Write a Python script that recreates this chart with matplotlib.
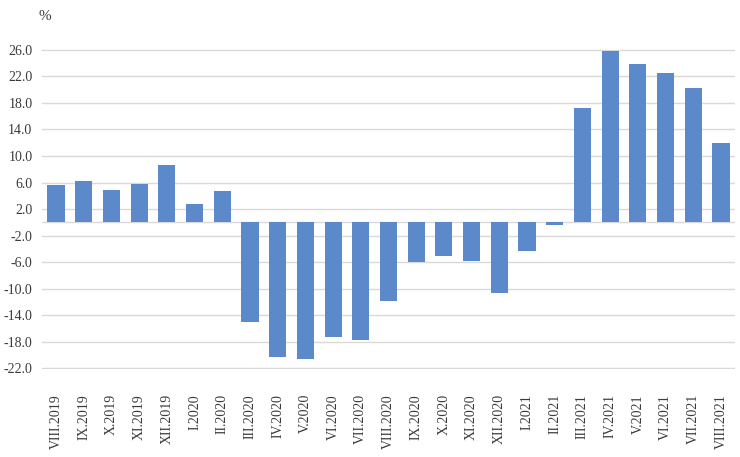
import matplotlib
matplotlib.use("Agg")
from matplotlib import pyplot as plt
import numpy as np

# months and year-on-year change, %
months = ['VIII.2019', 'IX.2019', 'X.2019', 'XI.2019', 'XII.2019',
          'I.2020', 'II.2020', 'III.2020', 'IV.2020', 'V.2020', 'VI.2020',
          'VII.2020', 'VIII.2020', 'IX.2020', 'X.2020', 'XI.2020', 'XII.2020',
          'I.2021', 'II.2021', 'III.2021', 'IV.2021', 'V.2021', 'VI.2021',
          'VII.2021', 'VIII.2021']
values = [5.6, 6.2, 4.9, 5.8, 8.6,
          2.7, 4.7, -15.1, -20.3, -20.7, -17.3,
          -17.7, -11.9, -6.0, -5.1, -5.9, -10.7,
          -4.3, -0.45, 17.3, 25.8, 23.9, 22.6,
          20.3, 11.9]
yticks = [-22, -18, -14, -10, -6, -2, 2, 6, 10, 14, 18, 22, 26]

plt.rcParams['font.family'] = ['Liberation Serif', 'DejaVu Serif']
txt = '#3a3a3a'

fig = plt.figure(figsize=(7.4, 4.57), dpi=100)
ax = fig.add_axes([0.057, 0.1925, 0.936, 0.7003])

x = np.arange(len(months))
ax.bar(x, values, width=0.62, color='#5B89C9', zorder=3)

ax.set_ylim(-22.15, 26.15)
ax.set_xlim(-0.5, len(months) - 0.5)
ax.set_yticks(yticks)
ax.set_yticklabels(['%.1f' % v for v in yticks])
ax.set_xticks(x)
ax.set_xticklabels(months, rotation=90, va='top', ha='center')

ax.grid(axis='y', color='#d9d9d9', linewidth=1, zorder=0)
ax.axhline(0, color='#d9d9d9', linewidth=1, zorder=1)
for s in ax.spines.values():
    s.set_visible(False)
ax.tick_params(axis='both', length=0, colors=txt, labelsize=10)
ax.tick_params(axis='y', pad=7)
ax.tick_params(axis='x', pad=18)

fig.text(0.052, 0.978, '%', fontsize=11, color=txt, ha='left', va='top')

fig.savefig('out.png', dpi=100)
